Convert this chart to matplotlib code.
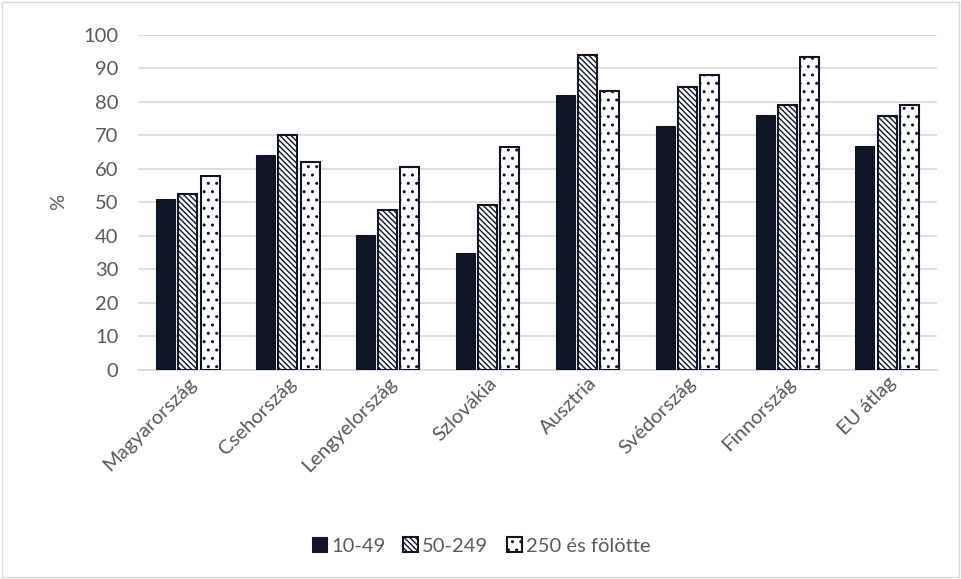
import matplotlib
matplotlib.use("Agg")
import matplotlib.pyplot as plt
import numpy as np
from matplotlib.patches import Rectangle

plt.rcParams['font.family'] = ['Lato', 'DejaVu Sans']
plt.rcParams['hatch.linewidth'] = 1.0

categories = ["Magyarország", "Csehország", "Lengyelország", "Szlovákia",
              "Ausztria", "Svédország", "Finnország", "EU átlag"]
series_names = ["10-49", "50-249", "250 és fölötte"]
v_10_49 = [51.0, 64.2, 40.3, 34.8, 81.9, 72.8, 76.0, 66.9]
v_50_249 = [52.4, 70.1, 47.8, 49.3, 94.0, 84.5, 78.9, 75.7]
v_250 = [58.0, 61.9, 60.4, 66.6, 83.3, 88.0, 93.5, 79.1]
yticks = [0, 10, 20, 30, 40, 50, 60, 70, 80, 90, 100]

dark = "#0d1526"
gray = "#595959"

fig = plt.figure(figsize=(9.62, 5.79), dpi=100)
ax = fig.add_axes([0.1435, 0.361, 0.8305, 0.579])

x = np.arange(len(categories))
w = 0.19
off = 0.222
ax.bar(x - off, v_10_49, w, color=dark, edgecolor=dark, linewidth=0.8, label=series_names[0], zorder=3)
ax.bar(x, v_50_249, w, color="white", edgecolor=dark, hatch="\\\\\\\\\\\\", linewidth=1.5, label=series_names[1], zorder=3)
ax.bar(x + off, v_250, w, color="white", edgecolor=dark, hatch="..", linewidth=1.5, label=series_names[2], zorder=3)

ax.set_xlim(-0.5, len(categories) - 0.5)
ax.set_ylim(0, 100)
ax.set_yticks(yticks)
ax.yaxis.grid(True, color="#d9d9d9", linewidth=1.2, zorder=0)
ax.set_axisbelow(True)
for s in ["top", "right", "left"]:
    ax.spines[s].set_visible(False)
ax.spines["bottom"].set_color("#d9d9d9")
ax.spines["bottom"].set_linewidth(1.2)
ax.tick_params(axis="both", length=0, colors=gray, labelsize=14.5)
ax.tick_params(axis="y", pad=14)
ax.set_xticks(x)
ax.set_xticklabels(categories, rotation=45, ha="right", rotation_mode="anchor")
ax.tick_params(axis="x", pad=3)
ax.set_ylabel("%", color=gray, fontsize=14.5, labelpad=12)

leg = fig.legend(loc="center", bbox_to_anchor=(0.5, 0.057), ncol=3, frameon=False,
                 fontsize=14.5, handlelength=0.75, handleheight=0.75, handletextpad=0.2,
                 columnspacing=0.9, labelcolor=gray)

fig.patches.append(Rectangle((0.002, 0.003), 0.995, 0.994, transform=fig.transFigure,
                             fill=False, edgecolor="#d9d9d9", linewidth=1.0))

fig.savefig("out.png", dpi=100, facecolor="white")
